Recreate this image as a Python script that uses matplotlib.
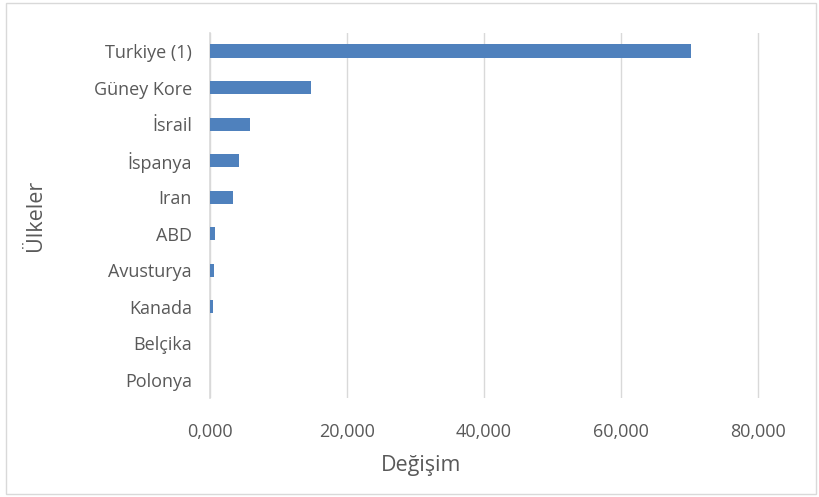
import matplotlib.pyplot as plt
import matplotlib.patches as mpatches
from matplotlib.ticker import FuncFormatter

countries = ['Turkiye (1)', 'Güney Kore', 'İsrail', 'İspanya', 'Iran',
             'ABD', 'Avusturya', 'Kanada', 'Belçika', 'Polonya']
values = [70200, 14700, 5900, 4200, 3400, 700, 600, 400, 0, 0]
xticks = [0, 20000, 40000, 60000, 80000]

plt.rcParams['font.family'] = ['Open Sans', 'DejaVu Sans']
TEXT = '#595959'

fig = plt.figure(figsize=(8.2, 4.97), dpi=100)
ax = fig.add_axes([0.256, 0.199, 0.6716, 0.735])

y_pos = list(range(len(countries)))
ax.barh(y_pos, values, height=0.36, color='#4F81BD', zorder=3)
ax.set_ylim(len(countries) - 0.5, -0.5)
ax.set_yticks(y_pos, labels=countries)
ax.set_xlim(0, 80400)
ax.set_xticks(xticks)
ax.xaxis.set_major_formatter(FuncFormatter(lambda v, p: f'{int(v) // 1000},000'))

ax.grid(True, axis='x', color='#D9D9D9', linewidth=1, zorder=0)
for s in ['top', 'right', 'bottom']:
    ax.spines[s].set_visible(False)
ax.spines['left'].set_color('#D9D9D9')
ax.spines['left'].set_linewidth(1.2)
ax.tick_params(axis='both', length=0, labelcolor=TEXT, labelsize=13)
ax.tick_params(axis='y', pad=13)
ax.tick_params(axis='x', pad=18)

ax.set_xlabel('Değişim', fontsize=15.5, color=TEXT)
ax.set_ylabel('Ülkeler', fontsize=15.5, color=TEXT)
ax.xaxis.set_label_coords(0.384, -0.155)
ax.yaxis.set_label_coords(-0.297, 0.5)

fig.patches.append(mpatches.Rectangle((0.007, 0.006), 0.988, 0.988, transform=fig.transFigure,
                                      fill=False, edgecolor='#D9D9D9', linewidth=1))

fig.savefig('out.png', dpi=100)
